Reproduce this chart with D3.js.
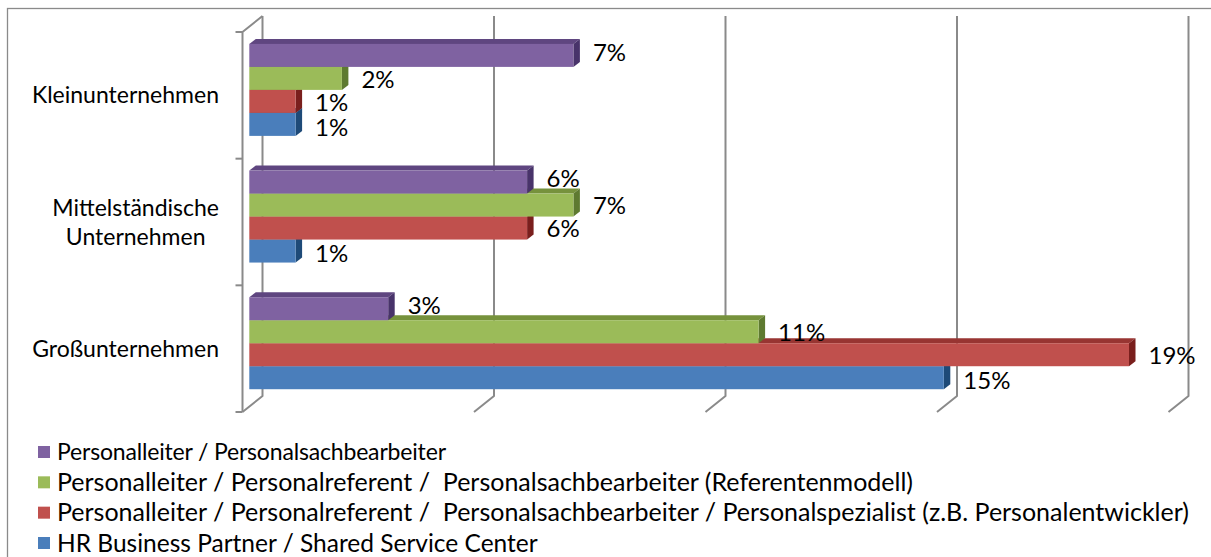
<!DOCTYPE html>
<html>
<head>
<meta charset="utf-8">
<script src="https://cdn.jsdelivr.net/npm/d3@7"></script>
<style>
  body { margin: 0; background: #fff; }
  svg { display: block; }
  text { font-family: Lato, "Liberation Sans", sans-serif; fill: #000; }
</style>
</head>
<body>
<svg id="chart" width="1211" height="557"></svg>
<script>
// Company size groups (y axis)
const categories = ["Kleinunternehmen", "Mittelständische Unternehmen", "Großunternehmen"];

// Series names (legend order, top bar first)
const seriesNames = [
  "Personalleiter / Personalsachbearbeiter",
  "Personalleiter / Personalreferent /  Personalsachbearbeiter (Referentenmodell)",
  "Personalleiter / Personalreferent /  Personalsachbearbeiter / Personalspezialist (z.B. Personalentwickler)",
  "HR Business Partner / Shared Service Center"
];

// Shares in percent, one value per company size
const personalsachbearbeiter = [7, 6, 3];
const referentenmodell = [2, 7, 11];
const personalspezialist = [1, 6, 19];
const hrBusinessPartner = [1, 1, 15];

// Value axis gridline positions (percent)
const xTicks = [0, 5, 10, 15, 20];

const seriesValues = [personalsachbearbeiter, referentenmodell, personalspezialist, hrBusinessPartner];

// Face colours per series: front, top, side
const palette = [
  { front: "#7F62A1", top: "#5F4680", side: "#48336A" },
  { front: "#9BBB59", top: "#76923C", side: "#5E7A30" },
  { front: "#C0504D", top: "#983532", side: "#7A1F1D" },
  { front: "#4A7EBB", top: "#355E90", side: "#1E4A78" }
];

// Vertical nudge of the value labels per series (top labels sit a little higher)
const labelNudge = [-3, 1, 1, 3];

const svg = d3.select("#chart");

// Chart frame
svg.append("rect")
  .attr("x", 7.5).attr("y", 8.5)
  .attr("width", 1210).attr("height", 560)
  .attr("fill", "#fff").attr("stroke", "#8a8a8a").attr("stroke-width", 1.3);

// Scales: front plane of the 3D box
const x = d3.scaleLinear().domain([0, 20]).range([242.5, 1168.5]);
const y = d3.scaleBand().domain(categories).range([32, 412]);
const ySeries = d3.scaleBand().domain(d3.range(seriesNames.length))
  .range([0, y.bandwidth()]).paddingInner(0).paddingOuter(0.754);

// Depth of the box (wall offset) and of each bar
const DX = 20, DY = -16;
const barShift = 0.34;            // bars sit a third of the way into the box
const bdx = 6.5, bdy = -5;        // bar depth
const yTop = y.range()[0], yBot = y.range()[1];

const grid = svg.append("g")
  .attr("fill", "none").attr("stroke", "#8a8a8a").attr("stroke-width", 2)
  .attr("stroke-linejoin", "round");

// Back-wall gridlines and their floor returns
xTicks.forEach(t => {
  grid.append("path").attr("d", d3.line()([
    [x(t) + DX, yTop + DY],
    [x(t) + DX, yBot + DY],
    [x(t), yBot]
  ]));
});

// Left wall: front edge, top return and tick marks
grid.append("path").attr("d", d3.line()([
  [x(0) + DX, yTop + DY],
  [x(0), yTop],
  [x(0), yBot]
]));
const tickYs = categories.map(c => y(c)).concat([yBot]);
tickYs.forEach(ty => {
  grid.append("path").attr("d", d3.line()([[x(0) - 7, ty], [x(0), ty]]));
});

// Bars: draw bottom series first so the bar above covers its top face
const bars = svg.append("g");
const ox = barShift * DX, oy = barShift * DY;
for (let s = seriesNames.length - 1; s >= 0; s--) {
  categories.forEach((c, ci) => {
    const v = seriesValues[s][ci];
    const x0 = x(0) + ox, x1 = x(v) + ox;
    const y0 = y(c) + ySeries(s) + oy, y1 = y0 + ySeries.bandwidth();
    const g = bars.append("g");
    g.append("path").attr("fill", palette[s].top).attr("d", d3.line()([
      [x0, y0], [x0 + bdx, y0 + bdy], [x1 + bdx, y0 + bdy], [x1, y0]
    ]) + "Z");
    g.append("path").attr("fill", palette[s].side).attr("d", d3.line()([
      [x1, y0], [x1 + bdx, y0 + bdy], [x1 + bdx, y1 + bdy], [x1, y1]
    ]) + "Z");
    g.append("rect").attr("fill", palette[s].front)
      .attr("x", x0).attr("y", y0).attr("width", x1 - x0).attr("height", y1 - y0);
  });
}

// Value labels
const labels = svg.append("g").attr("font-size", 24);
seriesValues.forEach((vals, s) => {
  vals.forEach((v, ci) => {
    const c = categories[ci];
    labels.append("text")
      .attr("x", x(v) + ox + bdx + 13)
      .attr("y", y(c) + ySeries(s) + oy + ySeries.bandwidth() / 2 + labelNudge[s])
      .attr("dy", "0.35em")
      .text(v + "%");
  });
});

// Category labels, wrapped and right-aligned as a block next to the axis
const catG = svg.append("g").attr("font-size", 23).attr("text-anchor", "middle");
const wrapWidth = 200, blockRight = 219, lineH = 29;
categories.forEach(c => {
  const words = c.split(" ");
  const probe = catG.append("text");
  const lines = [];
  let cur = "";
  words.forEach(w => {
    const t = cur ? cur + " " + w : w;
    probe.text(t);
    if (probe.node().getComputedTextLength() > wrapWidth && cur) { lines.push(cur); cur = w; }
    else cur = t;
  });
  lines.push(cur);
  const widths = lines.map(l => { probe.text(l); return probe.node().getComputedTextLength(); });
  probe.remove();
  const bw = d3.max(widths);
  const cy = y(c) + y.bandwidth() / 2;
  lines.forEach((l, i) => {
    catG.append("text")
      .attr("x", blockRight - bw / 2)
      .attr("y", cy + (i - (lines.length - 1) / 2) * lineH)
      .attr("dy", "0.35em")
      .text(l);
  });
});

// Legend
const legendY = d3.scalePoint().domain(d3.range(seriesNames.length)).range([452, 543]);
const legend = svg.append("g");
seriesNames.forEach((name, s) => {
  const ly = legendY(s);
  legend.append("rect").attr("x", 38).attr("y", ly - 6).attr("width", 12).attr("height", 12)
    .attr("fill", palette[s].front);
  const t = legend.append("text").attr("x", 57).attr("y", ly).attr("dy", "0.35em")
    .attr("font-size", s === 0 ? 23 : (s === 3 ? 24.5 : 25))
    .style("white-space", "pre")
    .text(name);
  if (s === 0) t.attr("textLength", 389).attr("lengthAdjust", "spacing");
});
</script>
</body>
</html>
